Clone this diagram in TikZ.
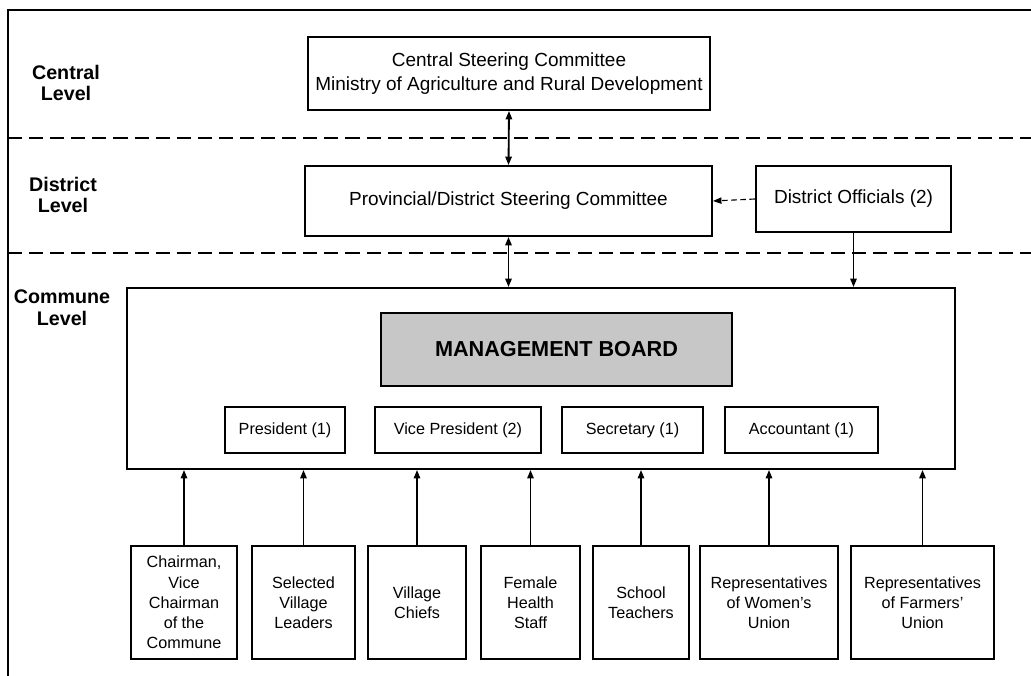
\documentclass[tikz,border=0pt]{standalone}
\usepackage{fontspec}
\setmainfont{Liberation Sans}
\usetikzlibrary{arrows.meta}

\begin{document}
\begin{tikzpicture}[x=0.025cm, y=-0.025cm,
  box/.style={draw, line width=1.3pt, fill=white, align=center, inner sep=2pt,
    font=\fontsize{11.5}{14.4}\selectfont},
  bigbox/.style={box, font=\fontsize{13.5}{16.5}\selectfont},
  level/.style={align=center, font=\bfseries\fontsize{14}{15.5}\selectfont},
  link/.style={line width=1.3pt, -{Triangle[length=6pt,width=4.5pt]}},
  twoway/.style={line width=1.3pt, {Triangle[length=6pt,width=4.5pt]}-{Triangle[length=6pt,width=4.5pt]}},
  levelline/.style={dash pattern=on 10pt off 5pt, line width=0.9pt}]

\useasboundingbox (0,0) rectangle (1031,676);

% The frame and the lines between the levels
\draw [line width=1.2pt] (8,676) -- (8,10) -- (1031,10);
\foreach \y in {138,253} {
  \draw [levelline] (8,\y) -- (1031,\y);
}

% Level labels on the left
\node [level] (centrallevel) at (66,83) {Central\\Level};
\node [level] (districtlevel) at (63,195) {District\\Level};
\node [level] (communelevel) at (62,308) {Commune\\Level};

% Central and district committees
\node [bigbox, minimum width=10.05cm, minimum height=1.825cm] (ministry) at (509,73.5)
  {Central Steering Committee\\Ministry of Agriculture and Rural Development};
\node [bigbox, minimum width=10.175cm, minimum height=1.75cm] (provincial) at (508.5,201)
  {Provincial/District Steering Committee};
\node [bigbox, minimum width=4.875cm, minimum height=1.65cm] (officials) at (853.5,199)
  {District Officials (2)};

% Commune level with the management board
\node [box, minimum width=20.7cm, minimum height=4.525cm] (commune) at (541,378.5) {};
\node [box, fill=black!22, minimum width=8.775cm, minimum height=1.825cm,
  font=\bfseries\fontsize{15.4}{18}\selectfont] (board) at (556.5,349.5) {MANAGEMENT BOARD};
\foreach \x/\w/\name/\lab in {
  285/3.0/president/{President (1)},
  458/4.15/vice/{Vice President (2)},
  632.5/3.525/secretary/{Secretary (1)},
  801.5/3.825/accountant/{Accountant (1)}} {
  \node [box, minimum width=\w cm, minimum height=1.15cm] (\name) at (\x,430) {\lab};
}

% Arrows between the levels
\draw [twoway] (ministry.south) -- (provincial.north);
\draw [twoway] (provincial.south) -- (provincial.south |- commune.north);
\draw [link, line width=0.8pt, dash pattern=on 4pt off 2.5pt] (officials.west) -- (provincial.east);
\draw [link] (officials.south) -- (officials.south |- commune.north);

% Members at the bottom, each feeding the commune box
\foreach \x/\w/\name/\lab in {
  184/2.65/chairman/{Chairman,\\Vice\\Chairman\\of the\\Commune},
  303.5/2.575/leaders/{Selected\\Village\\Leaders},
  417/2.45/chiefs/{Village\\Chiefs},
  530.5/2.475/health/{Female\\Health\\Staff},
  641/2.4/teachers/{School\\Teachers},
  769/3.45/women/{Representatives\\of Women's\\Union},
  922.5/3.575/farmers/{Representatives\\of Farmers'\\Union}} {
  \node [box, minimum width=\w cm, minimum height=2.825cm] (\name) at (\x,602.5) {\lab};
  \draw [link] (\name.north) -- (\name.north |- commune.south);
}
\end{tikzpicture}
\end{document}
